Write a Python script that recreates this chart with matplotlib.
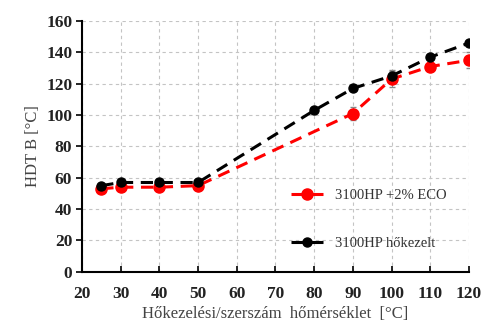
import numpy as np
import matplotlib.pyplot as plt

# data
temp_eco = [25, 30, 40, 50, 90, 100, 110, 120]
hdt_eco = [53, 54, 54, 55, 101, 123, 131, 135]
err_eco = [1, 1, 1, 1, 4, 5, 2, 5]

temp_hk = [25, 30, 40, 50, 80, 90, 100, 110, 120]
hdt_hk = [55, 57, 57, 57, 103, 117, 125, 137, 146]
err_hk = [1, 1, 1, 1, 1, 1, 4, 1, 1]

x_ticks = [20, 30, 40, 50, 60, 70, 80, 90, 100, 110, 120]
y_ticks = [0, 20, 40, 60, 80, 100, 120, 140, 160]

plt.rcParams['font.family'] = ['Liberation Serif', 'DejaVu Serif']

fig = plt.figure(figsize=(4.85, 3.24), dpi=100)
ax = fig.add_axes([0.169, 0.161, 0.798, 0.774])

dash = (0, (4, 2.5))
# error bars first, then lines with markers on top
ax.errorbar(temp_eco, hdt_eco, yerr=err_eco, fmt='none', ecolor='#888888',
            elinewidth=0.8, capsize=2, zorder=2)
ax.errorbar(temp_hk, hdt_hk, yerr=err_hk, fmt='none', ecolor='#888888',
            elinewidth=0.8, capsize=2, zorder=2)
ax.plot(temp_eco, hdt_eco, color='#ff0000', linestyle=dash, linewidth=2.2,
        marker='o', markersize=8, label='3100HP +2% ECO', zorder=3)
ax.plot(temp_hk, hdt_hk, color='black', linestyle=dash, linewidth=2.2,
        marker='o', markersize=6.5, label='3100HP hőkezelt', zorder=4)

ax.set_xlim(20, 120)
ax.set_ylim(0, 160)
ax.set_xticks(x_ticks)
ax.set_yticks(y_ticks)
ax.grid(True, color='#c4c4c4', linestyle=(0, (3, 3)), linewidth=0.8)
ax.set_axisbelow(True)

for s in ['top', 'right']:
    ax.spines[s].set_visible(False)
for s in ['left', 'bottom']:
    ax.spines[s].set_linewidth(1.5)

ax.tick_params(axis='y', direction='out', length=4, width=1.2, labelsize=12.5, pad=3)
ax.tick_params(axis='x', direction='in', length=4, width=1.2, labelsize=12.5, pad=10)
for lab in ax.get_xticklabels() + ax.get_yticklabels():
    lab.set_fontweight('bold')
    lab.set_color('#222222')

ax.set_xlabel('Hőkezelési/szerszám  hőmérséklet  [°C]', fontsize=12, color='#444444', labelpad=3)
ax.set_ylabel('HDT B [°C]', fontsize=12, color='#444444', labelpad=4)

leg = ax.legend(loc='lower right', bbox_to_anchor=(0.975, 0.035), frameon=False,
                fontsize=10.5, handlelength=2.2, labelspacing=2.35)
for t in leg.get_texts():
    t.set_color('#333333')

fig.savefig('out.png', dpi=100)
